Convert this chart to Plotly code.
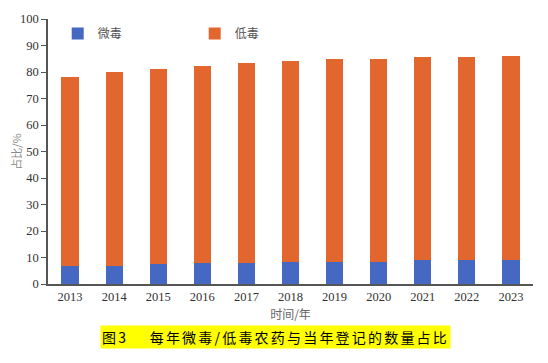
import plotly.graph_objects as go

years = ["2013", "2014", "2015", "2016", "2017", "2018", "2019", "2020", "2021", "2022", "2023"]
micro_tox = [6.9, 6.9, 7.5, 8.0, 8.0, 8.4, 8.4, 8.4, 9.0, 9.0, 9.0]
low_tox = [71.1, 73.2, 73.6, 74.1, 75.3, 75.8, 76.4, 76.4, 76.7, 76.7, 77.2]

fig = go.Figure()
fig.add_trace(go.Bar(x=years, y=micro_tox, name="微毒", marker_color="#4569C2", marker_line_width=0))
fig.add_trace(go.Bar(x=years, y=low_tox, name="低毒", marker_color="#E2672F", marker_line_width=0))

# page body has an 8px margin, so the figure is 8px smaller and margins shifted
fig.update_layout(
    barmode="stack",
    bargap=0.61,
    width=540, height=355,
    margin=dict(l=40, r=15, t=11, b=79, autoexpand=False),
    paper_bgcolor="white", plot_bgcolor="white",
    font=dict(family="Liberation Serif", size=12, color="#333333"),
    showlegend=True,
    legend=dict(orientation="h", traceorder="normal", x=0.02, y=1.0, xanchor="left", yanchor="top",
                entrywidth=92, entrywidthmode="pixels",
                font=dict(family="Noto Sans CJK SC", size=12, color="#555555"),
                bgcolor="rgba(0,0,0,0)"),
    xaxis=dict(showline=True, linecolor="#555555", linewidth=1.5, ticks="", automargin=False,
               tickfont=dict(family="Liberation Serif", size=12.5, color="#333333"),
               title=dict(text="时间/年", font=dict(family="Noto Sans CJK SC", size=12, color="#666666"), standoff=8)),
    yaxis=dict(range=[0, 100], dtick=10, showline=True, linecolor="#555555", linewidth=1.5, automargin=False,
               ticks="outside", ticklen=5, tickcolor="#555555", showgrid=False, zeroline=False,
               tickfont=dict(family="Liberation Serif", size=12.5, color="#333333"),
               title=dict(text="占比/%", font=dict(family="Noto Sans CJK SC", size=11, color="#888888"), standoff=6)),
)

fig.add_annotation(
    text='<span style="letter-spacing:2.2px">图3　 每年微毒/低毒农药与当年登记的数量占比</span>',
    xref="paper", yref="paper", x=0.47, y=-0.2, xanchor="center", yanchor="middle",
    showarrow=False, bgcolor="#FFFF00", borderpad=1,
    font=dict(family="Noto Sans CJK SC", size=14, color="#000000"),
)

fig.write_html("out.html")
